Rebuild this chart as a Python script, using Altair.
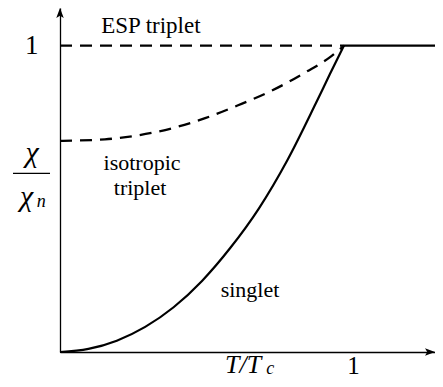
import altair as alt
import pandas as pd

# ---- data ----
T_MAX = 1.3204      # right end of the T/Tc axis (arrow tip)
CHI_MAX = 1.1225    # top end of the chi/chi_n axis (arrow tip)

singlet_T = [0, 0.1, 0.2, 0.3, 0.4, 0.5, 0.6, 0.7, 0.8, 0.9, 0.95, 1.0]
singlet_chi = [0, 0.010, 0.037, 0.082, 0.146, 0.232, 0.340, 0.468, 0.625, 0.810, 0.906, 1.0]

iso_T = [0, 0.158, 0.275, 0.394, 0.511, 0.627, 0.746, 0.863, 0.958, 1.0]
iso_chi = [0.689, 0.694, 0.707, 0.730, 0.763, 0.805, 0.853, 0.912, 0.967, 1.0]

esp_T = [0, 1.0]
esp_chi = [1.0, 1.0]

normal_T = [1.0, T_MAX]
normal_chi = [1.0, 1.0]

SERIF = "Liberation Serif, Times New Roman, serif"

singlet = pd.DataFrame({"T": singlet_T, "chi": singlet_chi})
iso = pd.DataFrame({"T": iso_T, "chi": iso_chi})
esp = pd.DataFrame({"T": esp_T, "chi": esp_chi})
normal = pd.DataFrame({"T": normal_T, "chi": normal_chi})

xs = alt.Scale(domain=[0, T_MAX], nice=False, zero=False)
ys = alt.Scale(domain=[0, CHI_MAX], nice=False, zero=False)

x_axis = alt.Axis(values=[1], labelExpr="'1'", ticks=False, grid=False, title=None,
                  domainColor="black", domainWidth=1.3, labelFont=SERIF, labelFontSize=25,
                  labelColor="black", labelPadding=13, labelBaseline="middle", labelOffset=9)
y_axis = alt.Axis(values=[1], labelExpr="'1'", ticks=False, grid=False, title=None,
                  domainColor="black", domainWidth=1.3, labelFont=SERIF, labelFontSize=27,
                  labelColor="black", labelPadding=22, labelBaseline="middle")

X = alt.X("T:Q", scale=xs, axis=x_axis)
Y = alt.Y("chi:Q", scale=ys, axis=y_axis)

singlet_line = alt.Chart(singlet).mark_line(color="black", strokeWidth=2.2, interpolate="monotone").encode(x=X, y=Y)
normal_line = alt.Chart(normal).mark_line(color="black", strokeWidth=2.2).encode(x="T:Q", y="chi:Q")
iso_line = alt.Chart(iso).mark_line(color="black", strokeWidth=2.3, strokeDash=[12, 8],
                                    interpolate="monotone").encode(x="T:Q", y="chi:Q")
esp_line = alt.Chart(esp).mark_line(color="black", strokeWidth=2.3, strokeDash=[12, 8]).encode(x="T:Q", y="chi:Q")

# arrow heads at the ends of both axes
arrows = pd.DataFrame({"T": [0, T_MAX], "chi": [CHI_MAX, 0], "ang": [0, 90]})
arrow_heads = alt.Chart(arrows).mark_point(
    shape="M0,0 L-0.75,2 L0,1.55 L0.75,2 Z", size=100, filled=True, color="black", opacity=1
).encode(x="T:Q", y="chi:Q", angle=alt.Angle("ang:Q", scale=None))

# annotation texts (data coordinates)
labels = pd.DataFrame({
    "T": [0.320, 0.289, 0.282, 0.669],
    "chi": [1.064, 0.616, 0.534, 0.201],
    "text": ["ESP triplet", "isotropic", "triplet", "singlet"],
    "size": [23, 22, 22, 22],
})
label_text = alt.Chart(labels).mark_text(font=SERIF, color="black", baseline="middle").encode(
    x="T:Q", y="chi:Q", text="text:N", size=alt.Size("size:Q", scale=None, legend=None))

math = pd.DataFrame({
    "T": [-0.0986, -0.118, 0.645],
    "chi": [0.649, 0.505, -0.044],
    "text": ["χ", "χ", "T/T"],
    "size": [30, 30, 26],
})
math_text = alt.Chart(math).mark_text(font=SERIF, fontStyle="italic", color="black",
                                      baseline="middle").encode(
    x="T:Q", y="chi:Q", text="text:N", size=alt.Size("size:Q", scale=None, legend=None))

subs = pd.DataFrame({"T": [-0.066, 0.740], "chi": [0.490, -0.057], "text": ["n", "c"]})
sub_text = alt.Chart(subs).mark_text(font=SERIF, fontSize=18, fontStyle="italic", color="black",
                                     baseline="middle").encode(x="T:Q", y="chi:Q", text="text:N")

frac = pd.DataFrame({"T": [-0.1655], "T2": [-0.0352], "chi": [0.583]})
frac_bar = alt.Chart(frac).mark_rule(color="black", strokeWidth=1.2).encode(x="T:Q", x2="T2:Q", y="chi:Q")

chart = alt.layer(
    singlet_line, normal_line, iso_line, esp_line, arrow_heads,
    label_text, math_text, sub_text, frac_bar
).properties(
    width=375, height=344,
    autosize=alt.AutoSizeParams(type="none"),
    padding={"left": 52, "top": 0, "right": 0, "bottom": 26},
    background="white",
).configure_view(stroke=None)

chart.save("out.html", embed_options={"renderer": "svg", "actions": False})
